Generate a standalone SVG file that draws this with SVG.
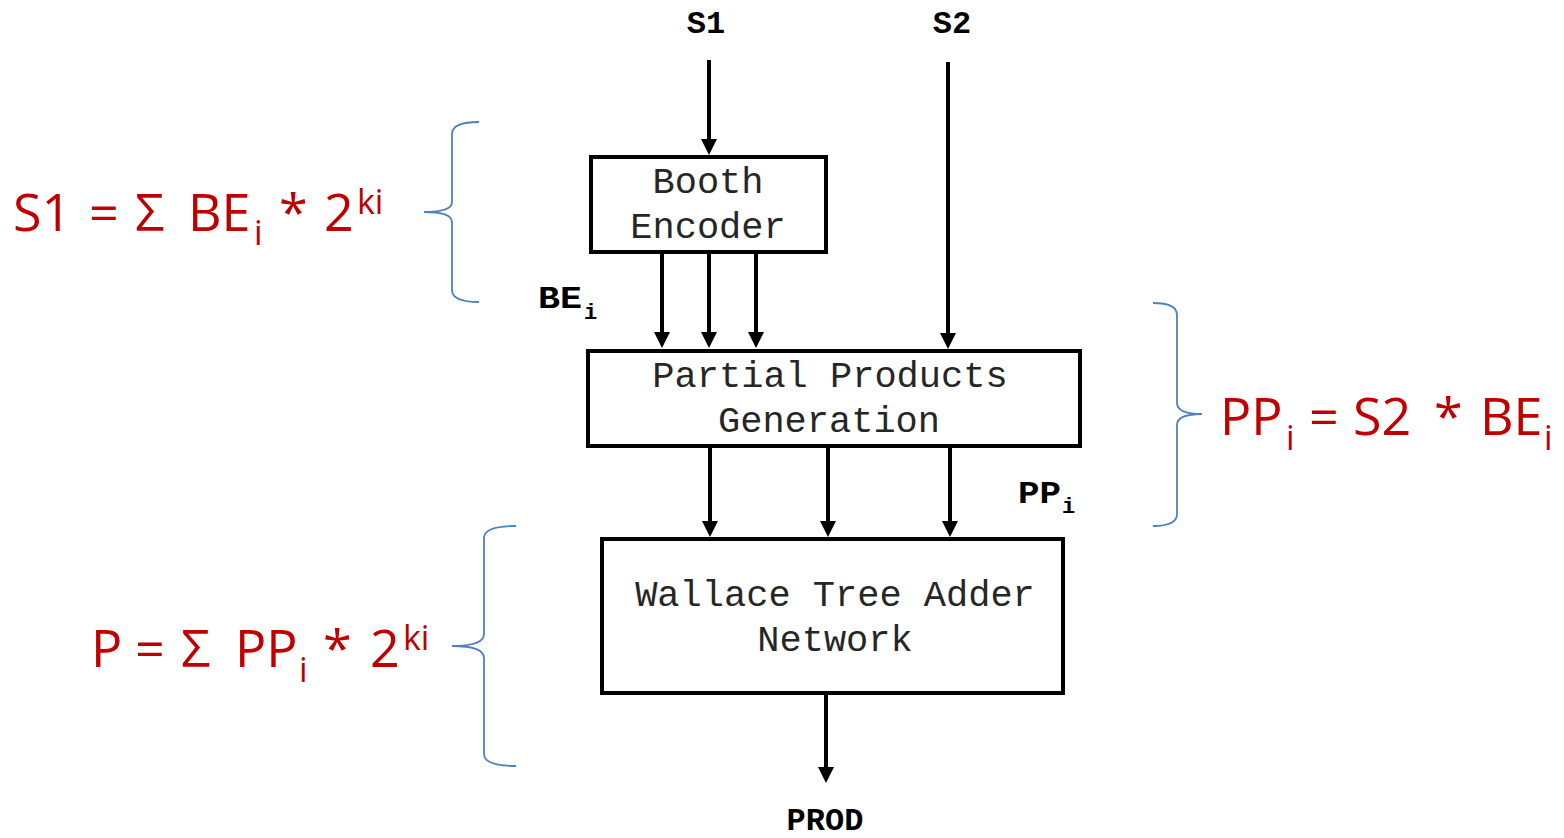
<svg xmlns="http://www.w3.org/2000/svg" width="1564" height="838" viewBox="0 0 1564 838">
<defs>
<style>
.box{fill:#fff;stroke:#000;stroke-width:4}
.bt{font-family:"Liberation Mono","Courier New",monospace;font-size:37px;fill:#262626;text-anchor:middle}
.lbl{font-family:"Liberation Mono","Courier New",monospace;font-weight:bold;font-size:32px;fill:#000}
.sub{font-family:"Liberation Mono","Courier New",monospace;font-weight:bold;font-size:22px;fill:#000}
.wire{stroke:#000;stroke-width:4;fill:none;marker-end:url(#ah)}
.f{font-family:"Open Sans","Noto Sans",sans-serif;font-size:52px;fill:#C00000}
.fs{font-family:"Open Sans","Noto Sans",sans-serif;font-size:34px;fill:#C00000}
.brace{fill:none;stroke:#4F81BD;stroke-width:1.8}
</style>
<marker id="ah" markerUnits="userSpaceOnUse" viewBox="0 0 16 16" markerWidth="16" markerHeight="16" refX="8" refY="8" orient="auto">
<path d="M0,0 L16,8 L0,16 Z" fill="#000"/>
</marker>
</defs>
<rect width="1564" height="838" fill="#fff"/>

<g id="connectors">
<line class="wire" x1="709" y1="60" x2="709" y2="147"/>
<line class="wire" x1="948" y1="62" x2="948" y2="341"/>
<line class="wire" x1="662" y1="253" x2="662" y2="340"/>
<line class="wire" x1="709" y1="253" x2="709" y2="340"/>
<line class="wire" x1="756" y1="253" x2="756" y2="340"/>
<line class="wire" x1="710" y1="447" x2="710" y2="529"/>
<line class="wire" x1="828" y1="447" x2="828" y2="529"/>
<line class="wire" x1="950" y1="447" x2="950" y2="529"/>
<line class="wire" x1="826" y1="695" x2="826" y2="775"/>
</g>

<g id="booth">
<rect class="box" x="591" y="157" width="235" height="95"/>
<text class="bt" x="708" y="193">Booth</text>
<text class="bt" x="708" y="238">Encoder</text>
</g>

<g id="ppgen">
<rect class="box" x="588" y="351" width="492" height="95"/>
<text class="bt" x="830" y="387">Partial Products</text>
<text class="bt" x="829" y="432">Generation</text>
</g>

<g id="wallace">
<rect class="box" x="602" y="539" width="461" height="154"/>
<text class="bt" x="835" y="606">Wallace Tree Adder</text>
<text class="bt" x="835" y="651">Network</text>
</g>

<g id="labels">
<text class="lbl" x="706" y="33" text-anchor="middle">S1</text>
<text class="lbl" x="952" y="33" text-anchor="middle">S2</text>
<text class="lbl" x="825" y="830" text-anchor="middle">PROD</text>
<text class="lbl" x="538" y="308" textLength="44" lengthAdjust="spacingAndGlyphs">BE</text>
<text class="sub" x="584" y="319">i</text>
<text class="lbl" x="1018" y="503" textLength="43" lengthAdjust="spacingAndGlyphs">PP</text>
<text class="sub" x="1062" y="513">i</text>
</g>

<g id="eq-s1">
<path class="brace" d="M479,122 Q452,122 452,134 L452,202 Q452,212 424,212 Q452,212 452,222 L452,290 Q452,302 479,302"/>
<text class="f" x="13" y="231">S1</text>
<text class="f" x="89" y="231">=</text>
<text class="f" x="135" y="231">Σ</text>
<text class="f" x="188" y="231">BE</text>
<text class="fs" x="254" y="245">i</text>
<text class="f" x="279" y="231">*</text>
<text class="f" x="324" y="231">2</text>
<text class="fs" x="357" y="214">ki</text>
</g>

<g id="eq-pp">
<path class="brace" d="M1153,303 Q1177,303 1177,315 L1177,403 Q1177,414 1202,414 Q1177,414 1177,425 L1177,514 Q1177,526 1153,526"/>
<text class="f" x="1220" y="435">PP</text>
<text class="fs" x="1286" y="450">i</text>
<text class="f" x="1309" y="435">=</text>
<text class="f" x="1353" y="435">S2</text>
<text class="f" x="1434" y="435">*</text>
<text class="f" x="1480" y="435">BE</text>
<text class="fs" x="1544" y="450">i</text>
</g>

<g id="eq-p">
<path class="brace" d="M516,526 Q484,526 484,538 L484,634 Q484,646 452,646 Q484,646 484,658 L484,754 Q484,766 516,766"/>
<text class="f" x="91" y="667">P</text>
<text class="f" x="135" y="667">=</text>
<text class="f" x="181" y="667">Σ</text>
<text class="f" x="235" y="667">PP</text>
<text class="fs" x="299" y="682">i</text>
<text class="f" x="323" y="667">*</text>
<text class="f" x="370" y="667">2</text>
<text class="fs" x="403" y="650">ki</text>
</g>
</svg>
